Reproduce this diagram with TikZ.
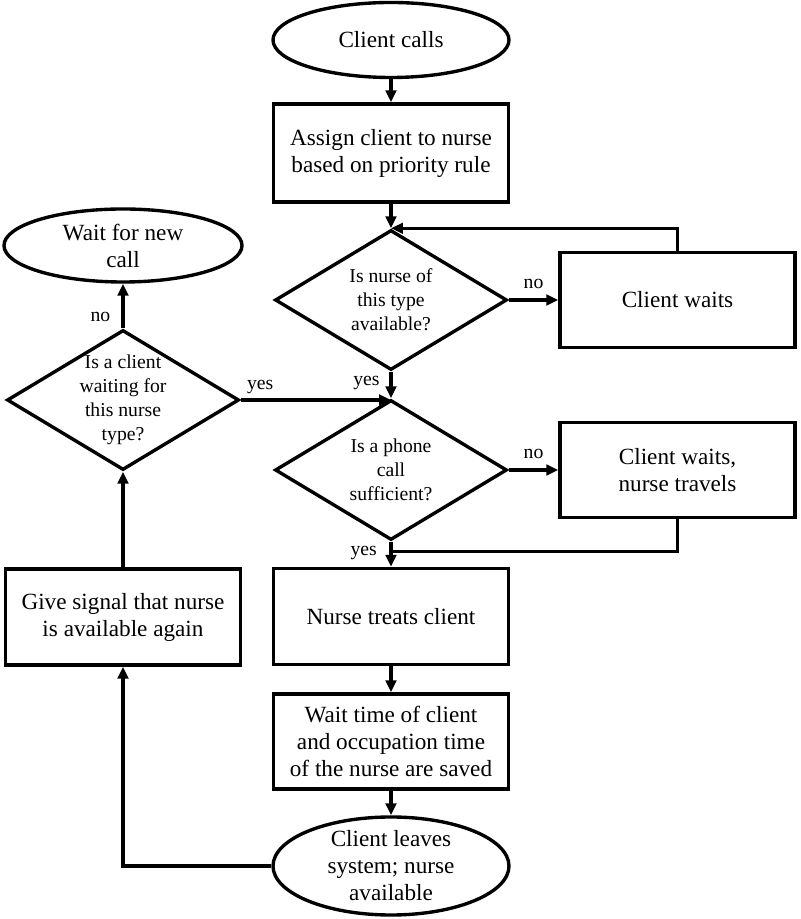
\documentclass[tikz,border=0pt]{standalone}
\usepackage{fontspec}
\setmainfont{Liberation Serif}
\usepackage{tikz}
\usetikzlibrary{arrows.meta,positioning,shapes.geometric,calc}

\tikzset{
  box/.style={draw,line width=2.4pt,rectangle,minimum width=5.875cm,minimum height=2.4cm,
    align=center,font=\fontsize{16.5}{19.2}\selectfont},
  term/.style={draw,line width=2.4pt,ellipse,inner sep=-0.2cm,minimum width=5.9cm,
    align=center,font=\fontsize{16.5}{19.2}\selectfont},
  query/.style={draw,line width=2.4pt,diamond,inner sep=-0.5cm,minimum width=5.8cm,minimum height=3.5cm,
    align=center,font=\fontsize{14}{17}\selectfont},
  arr/.style={line width=2.2pt,-{Triangle[length=8.5pt,width=7.5pt]}},
  tag/.style={font=\fontsize{14}{16}\selectfont,inner sep=2pt},
}

\begin{document}
\begin{tikzpicture}
  \useasboundingbox (0,0) rectangle (20,22.975);
  % main column
  \node[term,minimum height=1.875cm] (calls) at (9.775,21.975) {Client calls};
  \node[box,minimum height=2.45cm] (assign) at (9.775,19.15) {Assign client to nurse\\based on priority rule};
  \node[query] (avail) at (9.775,15.475) {Is nurse of\\this type\\available?};
  \node[box,minimum height=2.375cm] (waits) at (16.9375,15.475) {Client waits};
  \node[query] (phone) at (9.775,11.225) {Is a phone\\call\\sufficient?};
  \node[box,minimum height=2.375cm] (travel) at (16.9375,11.225) {Client waits,\\nurse travels};
  \node[box] (treat) at (9.775,7.5625) {Nurse treats client};
  \node[box,minimum height=2.375cm] (saved) at (9.775,4.4375) {Wait time of client\\and occupation time\\of the nurse are saved};
  \node[term,minimum height=2.45cm] (leaves) at (9.775,1.325) {Client leaves\\system; nurse\\available};
  % left column
  \node[box] (signal) at (3.075,7.55) {Give signal that nurse\\is available again};
  \node[query] (waiting) at (3.075,12.975) {Is a client\\waiting for\\this nurse\\type?};
  \node[term,minimum width=5.95cm,minimum height=1.825cm] (newcall) at (3.075,16.8375) {Wait for new\\call};

  \draw[arr] (calls) -- (assign);
  \draw[arr] (assign) -- (avail);
  \draw[arr] (avail) -- node[tag,above=5pt] {no} (waits);
  \draw[arr] (waits.north) |- (avail.north);
  \draw[arr] (avail) -- node[tag,left=5pt,pos=0.43] {yes} (phone);
  \draw[arr] (phone) -- node[tag,above=5pt] {no} (travel);
  \coordinate (merge) at ($(phone.south)!0.39!(treat.north)$);
  \draw[line width=2.2pt] (travel.south) |- (merge);
  \draw[arr] (phone) -- node[tag,left=7pt,pos=0.45] {yes} (treat);
  \draw[arr] (treat) -- (saved);
  \draw[arr] (saved) -- (leaves);
  \draw[arr] (leaves.west) -| (signal.south);
  \draw[arr] (signal) -- (waiting);
  \draw[arr] (waiting) -- node[tag,left=6pt,pos=0.25] {no} (newcall);
  \draw[arr] (waiting.east) -- node[tag,above right=2pt,pos=0] {yes} (waiting.east -| phone.north);
\end{tikzpicture}
\end{document}
